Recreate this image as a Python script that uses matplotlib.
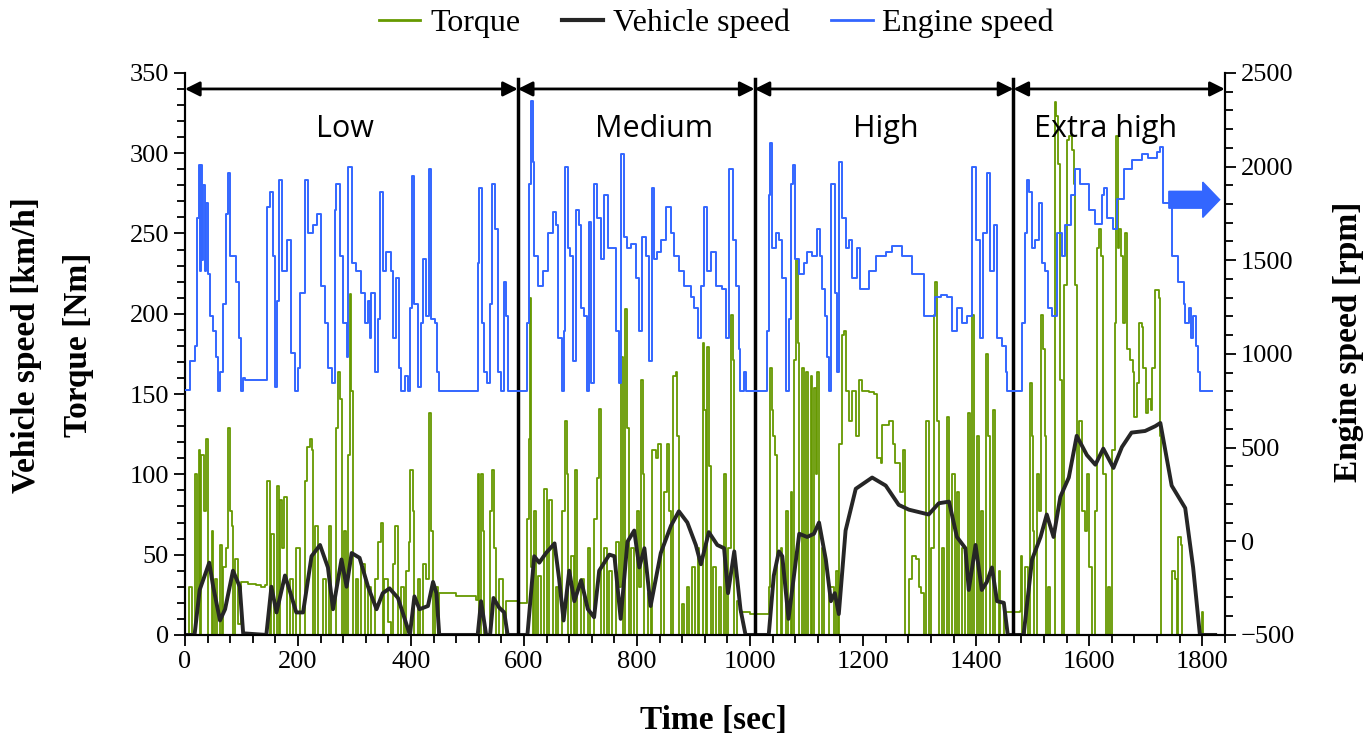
import matplotlib
matplotlib.use("Agg")
import matplotlib.pyplot as plt
from matplotlib.ticker import MultipleLocator
from matplotlib.lines import Line2D

# vehicle speed [km/h]
speed_t = [0, 17, 26, 43, 50, 62, 71, 85, 97, 103, 144, 153, 162, 177, 185, 197, 209, 224, 239, 253, 262, 277, 286, 295, 309,
           324, 339, 350, 362, 377, 398, 406, 415, 430, 439, 445, 450, 518, 524, 533, 540, 546, 556, 565, 571, 606, 618, 627, 639,
           654, 662, 670, 680, 689, 701, 713, 724, 733, 751, 760, 771, 783, 795, 804, 813, 824, 842, 860, 874, 889, 904, 913, 927,
           942, 954, 961, 972, 983, 992, 1033, 1042, 1051, 1057, 1068, 1087, 1101, 1113, 1122, 1134, 1143, 1150, 1157, 1169, 1187,
           1216, 1240, 1263, 1281, 1316, 1334, 1352, 1366, 1381, 1387, 1399, 1410, 1419, 1428, 1437, 1449, 1456, 1484, 1499, 1514,
           1525, 1537, 1549, 1564, 1578, 1596, 1611, 1625, 1643, 1658, 1675, 1699, 1717, 1726, 1746, 1770, 1784, 1796, 1823]
speed_v = [0, 0, 28, 45, 30, 9, 16, 40, 30, 1, 0, 30, 14, 37, 28, 14, 14, 49, 56, 42, 16, 47, 30, 51, 48,
           30, 16, 26, 29, 23, 0, 24, 16, 18, 33, 26, 0, 0, 21, 0, 0, 23, 17, 14, 0, 0, 49, 45, 51,
           57, 35, 9, 40, 21, 34, 16, 11, 40, 50, 49, 10, 58, 65, 42, 54, 18, 51, 68, 77, 70, 56, 44, 64,
           56, 54, 26, 52, 16, 0, 0, 37, 52, 49, 10, 63, 61, 63, 70, 47, 21, 26, 13, 65, 91,
           98, 93, 81, 78, 75, 82, 83, 61, 54, 28, 56, 28, 33, 42, 21, 20, 0, 0, 47, 61,
           75, 61, 86, 98, 124, 112, 106, 116, 104, 117, 126, 127, 130, 132, 93, 79, 42, 0, 0]

# engine speed [rpm]
rpm_t = [0, 9, 18, 21, 24, 26, 28, 30, 32, 35, 37, 41, 44, 50, 55, 59, 62, 67, 72, 77, 80, 85, 91, 96, 99, 103, 106, 143,
         145, 150, 155, 159, 162, 167, 171, 180, 188, 194, 200, 203, 212, 218, 227, 233, 241, 247, 253, 261, 265, 268, 274,
         280, 286, 289, 293, 296, 303, 312, 318, 324, 327, 330, 336, 342, 346, 350, 356, 365, 368, 374, 379, 383, 389, 395,
         399, 402, 406, 412, 418, 422, 427, 432, 436, 442, 446, 449, 514, 518, 521, 526, 530, 534, 539, 544, 548, 554, 559,
         564, 568, 571, 605, 606, 609, 612, 615, 618, 625, 633, 642, 652, 656, 661, 668, 671, 673, 677, 682, 686, 692, 698,
         701, 707, 711, 715, 719, 724, 730, 737, 742, 749, 757, 763, 768, 772, 777, 783, 789, 798, 804, 808, 816, 821, 826,
         830, 836, 842, 851, 860, 866, 874, 883, 895, 901, 907, 913, 918, 923, 930, 939, 951, 957, 963, 969, 975, 980, 983,
         989, 993, 1028, 1030, 1033, 1036, 1039, 1045, 1051, 1057, 1063, 1069, 1072, 1076, 1080, 1086, 1095, 1101, 1110,
         1119, 1123, 1128, 1132, 1136, 1139, 1144, 1150, 1154, 1157, 1163, 1169, 1175, 1181, 1190, 1195, 1210, 1222, 1240,
         1251, 1269, 1287, 1307, 1319, 1328, 1337, 1349, 1357, 1366, 1375, 1384, 1392, 1399, 1406, 1413, 1419, 1425, 1431,
         1437, 1446, 1452, 1455, 1481, 1482, 1486, 1490, 1494, 1499, 1505, 1511, 1516, 1522, 1528, 1534, 1543, 1552, 1558,
         1567, 1575, 1584, 1599, 1611, 1622, 1627, 1631, 1643, 1649, 1661, 1675, 1693, 1705, 1720, 1726, 1731, 1746, 1758,
         1767, 1770, 1776, 1781, 1784, 1789, 1793, 1796, 1817]
rpm_v = [807, 963, 1044, 1726, 2007, 1445, 2007, 1500, 1900, 1445, 1806, 1425, 1204, 1124, 983, 803, 903, 1264, 1746, 1967,
         1525, 1525, 1385, 1084, 803, 873, 863, 863,
         1786, 1866, 1525, 823, 1284, 1927, 1445, 1606, 1004, 803, 923, 1325, 1927, 1646, 1686, 1746, 1365, 1164, 923, 843,
         1766, 1907, 1525,
         1164, 983, 1997, 1997, 1485, 1445, 1325, 1164, 1284, 1084, 1325, 903, 1184, 1866, 1445, 1545, 1445, 1084, 1405, 923,
         803, 883, 803,
         1244, 1947, 1264, 823, 1164, 1505, 1204, 1987, 1184, 1164, 903, 803, 803, 1485, 1886, 1164, 903, 843, 1264, 1907,
         1666, 903, 803,
         1385, 1204, 803, 803, 1164, 1907, 2348, 2027, 1525, 1365, 1445, 1646, 1756, 1686, 1084, 803, 1124, 1997, 1566, 1525,
         963, 1766, 1686,
         1244, 1204, 803, 1706, 843, 1907, 1726, 1505, 1846, 1566, 1566, 1124, 843, 2067, 1626, 1566, 1586, 1405, 1124, 1626,
         1525, 963, 1886,
         1505, 1545, 1606, 1786, 1646, 1525, 1445, 1365, 1305, 1244, 1084, 1365, 1786, 1445, 1545, 1365, 1345, 1084, 1987,
         1606, 1365, 1024, 803,
         903, 803, 803, 1124, 1846, 2127, 1566, 1646, 1606, 1405, 803, 1184, 1907, 2007, 1505, 1425, 1485, 1545, 1525,
         1666, 1525, 1345, 1204, 983, 803, 1907, 1325, 903, 2027, 1726, 1566, 1606, 1405, 1566, 1345, 1445, 1525, 1545,
         1576, 1525, 1425, 1204, 1204, 1305, 1315, 1305, 1124, 1244, 1164, 1204, 1997, 1606, 1084, 1646, 1967, 1445, 1686,
         1084, 1044, 903, 803, 803, 1164, 1646, 1927, 1866, 1566, 1606, 1806, 1485, 1445, 1244, 1204, 1646, 1525, 1686,
         1846, 1987, 1907, 1766, 1696, 1846, 1887, 1726, 1666, 1826, 1987, 2037, 2067, 2047, 2077, 2107, 1806, 1525, 1385,
         1264, 1164, 1244, 1084, 1200, 1044, 903, 803, 803]

# torque [Nm]
torque_t = [0, 3, 8, 12, 18, 21, 24, 26, 29, 33, 37, 41, 47, 50, 53, 56, 62, 65, 68, 72, 77, 80, 83, 85, 88, 94, 100, 112,
            125, 135, 141, 145, 150, 153, 157, 162, 166, 168, 171, 175, 180, 186, 192, 197, 203, 212, 216, 221, 225, 227,
            231, 236, 244, 245, 250, 255, 259, 268, 271, 274, 278, 281, 285, 289, 292, 294, 297, 302, 306,
            312, 318, 324, 330, 336, 341, 347, 350, 353, 359, 365, 368, 372, 377, 383, 387, 392, 396, 399, 403, 406, 412,
            416, 422, 427, 432, 435, 439, 443, 448, 450, 480, 515, 518, 521, 524, 527, 530, 539, 544, 547, 551, 556, 562,
            568, 590, 604,
            605, 608, 611, 613, 615, 618, 621, 624, 630, 636, 641, 645, 649, 652, 656, 661, 668, 672, 676, 678, 684, 688,
            691, 694, 701, 707, 713, 717, 724, 729, 733, 737, 742, 747, 751, 755, 763, 768, 772, 776, 778, 782, 786, 790,
            795, 800, 804, 807, 810, 813, 820, 824, 827, 833, 837, 842, 848, 853, 857, 860, 864, 869, 871, 874, 880, 883,
            888, 892, 898, 902, 907, 910, 916, 919, 922, 924, 927, 930, 935, 939, 945, 948, 953, 957, 961, 966, 969, 972,
            977, 983, 1000, 1031,
            1033, 1035, 1038, 1040, 1044, 1048, 1054, 1057, 1063, 1067, 1072, 1075, 1078, 1081, 1084, 1086, 1091, 1095, 1099,
            1103, 1107, 1110, 1113, 1116, 1119, 1122, 1128, 1131, 1139, 1148, 1152, 1156, 1158, 1162, 1166, 1170, 1175, 1181,
            1187, 1192, 1198, 1210, 1219, 1225, 1231, 1234, 1246, 1253, 1257, 1266, 1270, 1275, 1281, 1287, 1293, 1299, 1303,
            1307, 1311, 1316, 1321, 1325, 1328, 1331, 1334, 1339, 1343, 1349, 1352, 1357, 1362, 1366, 1370, 1375, 1381, 1386,
            1390, 1393, 1396, 1402, 1405, 1409, 1413, 1417, 1421, 1425, 1429, 1434, 1440, 1443, 1449, 1478,
            1480, 1482, 1487, 1492, 1495, 1498, 1500, 1503, 1508, 1511, 1515, 1518, 1521, 1524, 1527, 1531, 1539, 1541, 1545,
            1549, 1552, 1556, 1561, 1565, 1569, 1573, 1575, 1578, 1582, 1587, 1592, 1596, 1600, 1605, 1611, 1614, 1618, 1621,
            1625, 1630, 1633, 1637, 1641, 1645, 1648, 1651, 1653, 1657, 1660, 1664, 1667, 1673, 1677, 1680, 1684, 1688, 1693,
            1696, 1700, 1705, 1710, 1712, 1717, 1723, 1726, 1728, 1745, 1747, 1752, 1755, 1758, 1763, 1765, 1798, 1799, 1802,
            1815]
torque_v = [0, 0, 30, 0, 100, 18, 115, 0, 112, 77, 122, 0, 65, 0, 35, 0, 56, 0, 42, 54, 129, 77, 68, 0, 47, 7, 33, 32,
            31, 30, 31, 96, 0, 63, 0, 93, 0, 84, 54, 86, 0, 35, 0, 54, 0, 96, 117, 122, 115, 0,
            68, 0, 0, 35, 0, 68, 0, 129, 164, 147, 0, 65, 0, 112, 212, 152, 0, 35, 0,
            44, 0, 30, 0, 35, 58, 70, 0, 35, 8, 0, 44, 68, 0, 30, 0, 40, 58, 103, 77, 0, 35,
            0, 44, 35, 138, 65, 0, 30, 0, 26, 24, 22, 100, 0, 100, 65, 0, 77, 103, 54, 0, 35, 0,
            21, 20, 20,
            72, 122, 210, 42, 0, 77, 0, 37, 0, 91, 0, 84, 54, 0, 30, 0, 77, 133, 100, 0, 49, 0,
            103, 0, 35, 0, 54, 0, 72, 98, 141, 0, 54, 0, 40, 0, 58, 30, 173, 0, 203, 129, 0, 54,
            0, 77, 30, 159, 100, 0, 26, 0, 115, 110, 119, 0, 89, 119, 77, 0, 161, 164, 124, 0, 19, 0,
            30, 0, 42, 0, 54, 0, 182, 140, 0, 179, 105, 0, 42, 0, 30, 0, 100, 0, 54, 199, 171, 0,
            21, 14, 13, 13,
            30, 166, 140, 124, 112, 0, 54, 0, 77, 0, 89, 0, 171, 234, 182, 0, 166, 0, 164,
            0, 161, 0, 154, 100, 164, 0, 54, 0, 30, 0, 40, 0, 119, 187, 189, 152, 133, 152,
            124, 159, 152, 151, 150, 110, 107, 131, 133, 119, 107, 89, 115, 0, 35, 49, 47, 30, 26,
            0, 133, 0, 54, 199, 220, 133, 0, 54, 0, 136, 0, 100, 0, 89, 0, 54, 0, 138,
            0, 199, 0, 124, 0, 77, 0, 175, 124, 0, 140, 0, 40, 0, 14, 15,
            49, 0, 42, 0, 157, 124, 65, 0, 100, 77, 199, 178, 124, 0, 30, 0, 332, 323, 293,
            159, 0, 218, 308, 311, 302, 281, 218, 0, 133, 77, 65, 100, 42, 0, 77, 241, 253, 236,
            100, 0, 30, 0, 115, 194, 311, 241, 253, 236, 194, 250, 178, 171, 164, 136, 157, 194, 192,
            166, 138, 147, 140, 166, 215, 210, 124, 0, 0, 40, 35, 0, 61, 56, 0, 0, 14, 0,
            0]

phase_bounds = [0, 589, 1008, 1466, 1840]
phase_names = ["Low", "Medium", "High", "Extra high"]
phase_label_x = [283, 830, 1240, 1629]

green = "#669900"
blue = "#3366ff"
dark = "#262626"
serif = "Liberation Serif"

fig = plt.figure(figsize=(13.7, 7.4), dpi=100)
ax = fig.add_axes([0.135, 0.142, 0.759, 0.7595])
ax2 = ax.twinx()

ax.plot(torque_t, torque_v, color=green, lw=1.3, drawstyle="steps-post", zorder=2)
ax.plot(speed_t, speed_v, color=dark, lw=2.8, zorder=4)
ax2.plot(rpm_t, rpm_v, color=blue, lw=1.4, drawstyle="steps-post", zorder=3)

ax.set_xlim(0, 1840)
ax.set_ylim(0, 350)
ax2.set_ylim(-500, 2500)
ax.xaxis.set_major_locator(MultipleLocator(200))
ax.xaxis.set_minor_locator(MultipleLocator(40))
ax.yaxis.set_major_locator(MultipleLocator(50))
ax.yaxis.set_minor_locator(MultipleLocator(10))
ax2.yaxis.set_major_locator(MultipleLocator(500))
ax2.yaxis.set_minor_locator(MultipleLocator(100))

for a in (ax, ax2):
    a.spines["top"].set_visible(False)
    for s in a.spines.values():
        s.set_linewidth(1.5)
    a.tick_params(which="both", direction="out", width=1.3, labelsize=19)
    a.tick_params(which="major", length=8)
    a.tick_params(which="minor", length=6)
    for lab in a.get_xticklabels() + a.get_yticklabels():
        lab.set_fontfamily(serif)

# phase borders and arrows
for b in phase_bounds[1:-1]:
    ax.plot([b, b], [0, 346], color="black", lw=2.5, zorder=5)
for i in range(4):
    ax.annotate("", xy=(phase_bounds[i], 340), xytext=(phase_bounds[i + 1], 340),
                arrowprops=dict(arrowstyle="<|-|>", color="black", lw=2, mutation_scale=22,
                                shrinkA=0, shrinkB=0), zorder=6)
    ax.text(phase_label_x[i], 315, phase_names[i], fontsize=22, family="Open Sans",
            ha="center", va="center", zorder=6)

ax.arrow(1741, 271, 90, 0, width=10.5, head_width=22, head_length=30,
         length_includes_head=True, color=blue, zorder=6)

fig.text(0.019, 0.534, "Vehicle speed [km/h]", rotation=90, ha="center", va="center",
         fontsize=24, fontweight="bold", family=serif)
fig.text(0.057, 0.534, "Torque [Nm]", rotation=90, ha="center", va="center",
         fontsize=24, fontweight="bold", family=serif)
fig.text(0.984, 0.538, "Engine speed [rpm]", rotation=90, ha="center", va="center",
         fontsize=24, fontweight="bold", family=serif)
fig.text(0.521, 0.027, "Time [sec]", ha="center", va="center",
         fontsize=24, fontweight="bold", family=serif)

handles = [Line2D([], [], color=green, lw=2), Line2D([], [], color=dark, lw=3),
           Line2D([], [], color=blue, lw=2)]
fig.legend(handles, ["Torque", "Vehicle speed", "Engine speed"], loc="center",
           bbox_to_anchor=(0.523, 0.968), ncol=3, frameon=False,
           prop={"family": serif, "size": 23}, handlelength=1.3, handletextpad=0.3,
           columnspacing=1.3)

fig.savefig("out.png", dpi=100)
